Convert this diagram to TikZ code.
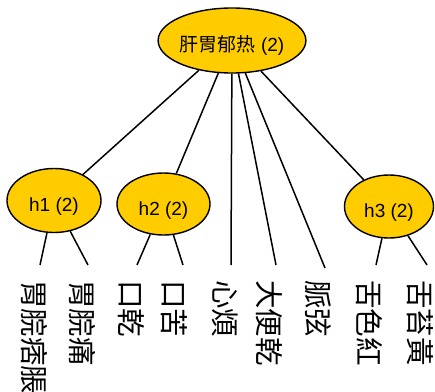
\documentclass[tikz,border=0pt]{standalone}
\usepackage{fontspec}
\setmainfont{Liberation Sans}
\newfontfamily\cjk{Noto Sans CJK TC}
\usetikzlibrary{shapes.geometric}
\definecolor{gold}{HTML}{FFCC00}
\begin{document}
\begin{tikzpicture}[x=1pt,y=-1pt,
  topic/.style={ellipse, draw=black, line width=1.4pt, fill=gold,
    inner sep=0pt, text height=22pt, text depth=0pt,
    font=\fontsize{19}{19}\selectfont},
  symptom/.style={rotate=-90, anchor=west, inner sep=0pt,
    font=\cjk\fontsize{28.5}{28.5}\selectfont},
  link/.style={line width=1.5pt, draw=black}]
\useasboundingbox (0,0) rectangle (435,391);

% topic nodes
\node[topic, minimum width=141pt, minimum height=65pt] (root) at (232,40.5) {{\cjk 肝胃郁热} (2)};
\node[topic, minimum width=94pt, minimum height=64pt] (h1) at (54,200.5) {h1 (2)};
\node[topic, minimum width=93pt, minimum height=62pt] (h2) at (163.5,204) {h2 (2)};
\node[topic, minimum width=89pt, minimum height=63pt] (h3) at (389,206.5) {h3 (2)};

% upper ends of the symptom labels
\coordinate (t1) at (40,265);
\coordinate (t2) at (88,265);
\coordinate (t3) at (137,265);
\coordinate (t4) at (183,265);
\coordinate (t5) at (231,265);
\coordinate (t6) at (276,265);
\coordinate (t7) at (325,268);
\coordinate (t8) at (376,265);
\coordinate (t9) at (427,265);

% symptom labels, set vertically
\node[symptom] (s1) at (34,280) {胃脘痞脹};
\node[symptom] (s2) at (82,280) {胃脘痛};
\node[symptom] (s3) at (131,280) {口乾};
\node[symptom] (s4) at (174,280) {口苦};
\node[symptom] (s5) at (225,280) {心煩};
\node[symptom] (s6) at (269,280) {大便乾};
\node[symptom] (s7) at (318,280) {脈弦};
\node[symptom] (s8) at (369,280) {舌色紅};
\node[symptom] (s9) at (420,280) {舌苔黃};

% connectors
\draw[link] (root) -- (h1);
\draw[link] (root) -- (h2);
\draw[link] (root) -- (t5);
\draw[link] (root) -- (t6);
\draw[link] (root) -- (t7);
\draw[link] (root) -- (h3);
\draw[link] (h1) -- (t1);
\draw[link] (h1) -- (t2);
\draw[link] (h2) -- (t3);
\draw[link] (h2) -- (t4);
\draw[link] (h3) -- (t8);
\draw[link] (h3) -- (t9);
\end{tikzpicture}
\end{document}
